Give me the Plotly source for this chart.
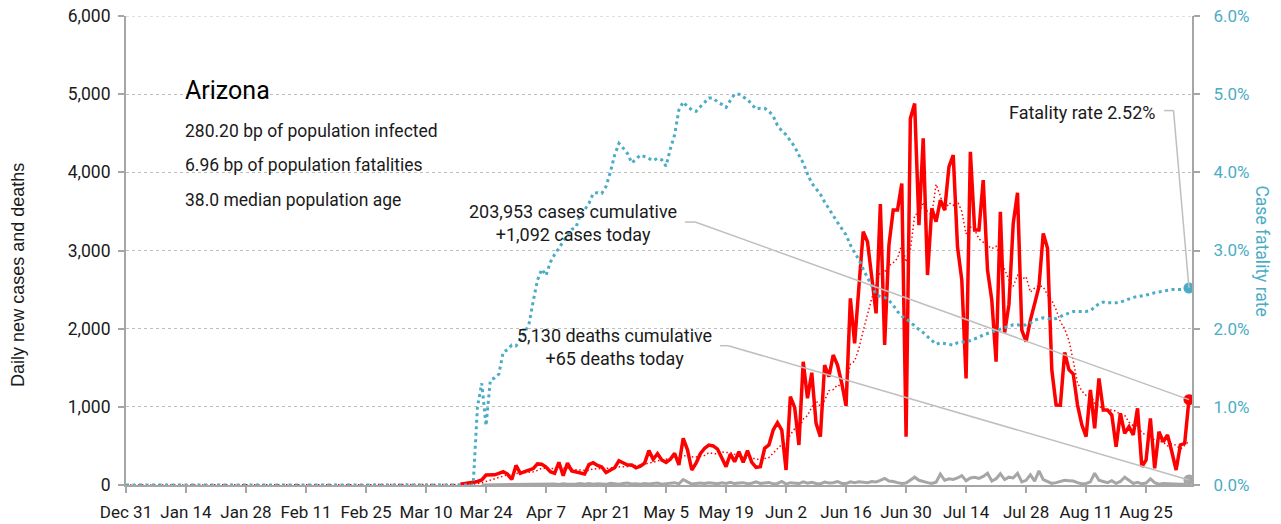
import pandas as pd
import plotly.graph_objects as go

# ---------------- data ----------------
start_date = "2019-12-31"

# daily new cases: zero before Mar 18, then reported values Mar 18 .. Sep 4
cases_zero_days = 78
cases_reported = [
    10, 15, 22, 35, 45, 65, 128, 128, 130, 150,
    170, 140, 70, 250, 150, 170, 190, 210, 270, 265,
    230, 170, 150, 290, 120, 280, 180, 170, 150, 140,
    260, 285, 250, 230, 160, 190, 220, 310, 280, 256,
    256, 220, 240, 280, 440, 330, 400, 320, 290, 330,
    405, 256, 597, 450, 192, 280, 400, 470, 510, 500,
    460, 341, 235, 397, 298, 426, 290, 439, 290, 226,
    235, 469, 512, 703, 797, 703, 192, 1130, 993, 512,
    1577, 1109, 1437, 789, 618, 1535, 1387, 1663, 1535, 1300,
    1010, 2388, 1812, 2537, 3240, 3112, 2622, 2196, 3594, 1791,
    3070, 3517, 3517, 3858, 618, 4690, 4881, 3325, 4434, 2686,
    3539, 3368, 3645, 3517, 4071, 4221, 3048, 2622, 1364, 4263,
    3261, 3261, 3901, 2750, 2366, 1577, 3496, 1950, 2310, 3347,
    3739, 1982, 1833, 2110, 2320, 2536, 3219, 3027, 1471, 1023,
    1020, 1695, 1475, 1420, 1023, 770, 620, 1215, 725, 1364,
    959, 960, 895, 490, 917, 661, 746, 640, 981, 234,
    320, 853, 213, 682, 554, 640, 426, 192, 512, 533,
    1092,
]

# daily deaths: zero before Mar 23, then reported values Mar 23 .. Sep 4
deaths_zero_days = 83
deaths_reported = [
    1, 2, 1, 3, 2, 4, 5, 3, 6, 4,
    8, 5, 7, 10, 6, 9, 8, 12, 6, 15,
    10, 8, 14, 18, 9, 20, 11, 16, 13, 8,
    22, 15, 10, 18, 24, 12, 16, 9, 20, 14,
    18, 25, 11, 17, 21, 30, 15, 70, 40, 12,
    20, 25, 18, 30, 22, 15, 28, 20, 35, 18,
    25, 30, 16, 22, 40, 19, 26, 33, 15, 20,
    45, 12, 30, 25, 18, 40, 22, 35, 20, 15,
    38, 25, 30, 45, 20, 18, 40, 30, 40, 35,
    30, 45, 40, 60, 85, 50, 45, 30, 20, 25,
    60, 100, 60, 40, 30, 20, 35, 140, 60, 80,
    70, 90, 120, 55, 90, 100, 85, 110, 150, 50,
    80, 145, 70, 100, 90, 150, 40, 60, 130, 50,
    180, 70, 45, 20, 30, 50, 60, 55, 50, 30,
    15, 20, 40, 150, 60, 45, 30, 55, 20, 45,
    100, 60, 20, 35, 15, 25, 80, 30, 10, 20,
    15, 10, 12, 8, 10, 65,
]

# case fatality rate (%): zero before Mar 22
cfr_zero_days = 82
cfr_reported_pct = [
    1.00, 1.30, 0.76, 1.34, 1.37, 1.42, 1.70, 1.73, 1.79, 1.78,
    1.86, 1.95, 2.05, 2.35, 2.62, 2.76, 2.68, 2.85, 2.95, 3.03,
    3.12, 3.20, 3.27, 3.30, 3.46, 3.52, 3.60, 3.73, 3.74, 3.73,
    3.82, 4.00, 4.22, 4.37, 4.31, 4.24, 4.12, 4.17, 4.22, 4.20,
    4.17, 4.15, 4.18, 4.16, 4.08, 4.30, 4.48, 4.80, 4.90, 4.84,
    4.80, 4.78, 4.84, 4.90, 4.95, 4.95, 4.90, 4.87, 4.83, 4.92,
    5.00, 5.00, 4.97, 4.93, 4.87, 4.81, 4.82, 4.82, 4.78, 4.72,
    4.60, 4.53, 4.48, 4.40, 4.33, 4.22, 4.12, 3.98, 3.86, 3.79,
    3.72, 3.62, 3.53, 3.44, 3.36, 3.28, 3.20, 3.07, 2.98, 2.88,
    2.76, 2.65, 2.55, 2.44, 2.41, 2.40, 2.36, 2.30, 2.22, 2.16,
    2.13, 2.08, 2.04, 1.99, 1.95, 1.90, 1.85, 1.80, 1.82, 1.81,
    1.80, 1.79, 1.82, 1.83, 1.83, 1.85, 1.86, 1.89, 1.92, 1.94,
    1.96, 1.97, 2.00, 2.02, 2.03, 2.05, 2.05, 2.04, 2.05, 2.07,
    2.11, 2.13, 2.14, 2.13, 2.12, 2.13, 2.16, 2.18, 2.20, 2.22,
    2.22, 2.22, 2.22, 2.23, 2.28, 2.32, 2.34, 2.33, 2.33, 2.33,
    2.34, 2.36, 2.39, 2.40, 2.41, 2.42, 2.43, 2.44, 2.46, 2.47,
    2.48, 2.49, 2.50, 2.50, 2.50, 2.50, 2.52,
]

state_name = "Arizona"
info_lines = [
    "280.20 bp of population infected",
    "6.96 bp of population fatalities",
    "38.0 median population age",
]
cases_cumulative = 203953
deaths_cumulative = 5130

tick_step_days = 14
y_max = 6000

# ---------------- build series ----------------
cases = [0] * cases_zero_days + cases_reported
deaths = [0] * deaths_zero_days + deaths_reported
cfr = [0.0] * cfr_zero_days + [v / 100 for v in cfr_reported_pct]
n = len(cases)
dates = pd.date_range(start_date, periods=n, freq="D")
cases_s = pd.Series(cases, index=dates)
deaths_s = pd.Series(deaths, index=dates)
cfr_s = pd.Series(cfr, index=dates)
cases_avg = cases_s.rolling(7, min_periods=1).mean()

cases_plot = cases_s[cases_s.index >= cases_s[cases_s > 0].index[0]]
deaths_plot = deaths_s[deaths_s.index >= deaths_s[deaths_s > 0].index[0]]

RED = "#FF0000"
TEAL = "#4BACC6"
GRAY = "#A6A6A6"
LEAD = "#BFBFBF"
TXT = "#1A1A1A"
FONT = "Roboto, Liberation Sans, Arial, sans-serif"
FONT_REG = "Liberation Sans, Arial, sans-serif"

fig = go.Figure()
fig.add_trace(go.Scatter(x=deaths_plot.index, y=deaths_plot.values, mode="lines",
                         line=dict(color=GRAY, width=3), hoverinfo="skip"))
fig.add_trace(go.Scatter(x=cases_avg.index, y=cases_avg.values, mode="lines",
                         line=dict(color=RED, width=1.5, dash="1.5px,2.5px"), hoverinfo="skip"))
fig.add_trace(go.Scatter(x=cases_plot.index, y=cases_plot.values, mode="lines",
                         line=dict(color=RED, width=3.5), hoverinfo="skip"))
fig.add_trace(go.Scatter(x=cfr_s.index, y=cfr_s.values, mode="lines", yaxis="y2",
                         line=dict(color=TEAL, width=3, dash="3px,3.5px"), hoverinfo="skip"))
# end-point markers
fig.add_trace(go.Scatter(x=[dates[-1]], y=[cases[-1]], mode="markers",
                         marker=dict(color=RED, size=11)))
fig.add_trace(go.Scatter(x=[dates[-1]], y=[deaths[-1]], mode="markers",
                         marker=dict(color=GRAY, size=11)))
fig.add_trace(go.Scatter(x=[dates[-1]], y=[cfr[-1]], mode="markers", yaxis="y2",
                         marker=dict(color=TEAL, size=11)))

tickvals = list(dates[::tick_step_days])
x_end = dates[-1] + pd.Timedelta(hours=17)


def day_at(d):
    return (pd.Timestamp(start_date) + pd.Timedelta(days=d)).isoformat()


shapes = [
    # top gridline (plotly omits the grid line at the range edge)
    dict(type="line", xref="paper", yref="y", x0=0, x1=1, y0=y_max, y1=y_max, layer="below",
         line=dict(color=LEAD, width=1, dash="dot")),
    dict(type="line", xref="x", yref="y", x0=day_at(130.4), x1=day_at(132.8), y0=3364, y1=3364,
         line=dict(color=LEAD, width=1.5)),
    dict(type="line", xref="x", yref="y", x0=day_at(132.8), x1=dates[-1].isoformat(), y0=3364,
         y1=cases[-1], line=dict(color=LEAD, width=1.5)),
    dict(type="line", xref="x", yref="y", x0=day_at(138.6), x1=day_at(140.5), y0=1782, y1=1782,
         line=dict(color=LEAD, width=1.5)),
    dict(type="line", xref="x", yref="y", x0=day_at(140.5), x1=dates[-1].isoformat(), y0=1782,
         y1=deaths[-1], line=dict(color=LEAD, width=1.5)),
    dict(type="line", xref="x", yref="y2", x0=day_at(242.2), x1=day_at(244.4), y0=0.0479, y1=0.0479,
         line=dict(color=LEAD, width=1.5)),
    dict(type="line", xref="x", yref="y2", x0=day_at(244.4), x1=dates[-1].isoformat(), y0=0.0479,
         y1=cfr[-1], line=dict(color=LEAD, width=1.5)),
]

annotations = [
    dict(text=state_name, x=0.0535, y=0.842, xref="paper", yref="paper", xanchor="left",
         yanchor="middle", showarrow=False, font=dict(family=FONT, size=25, color="#000000")),
]
for i, line in enumerate(info_lines):
    annotations.append(dict(text=line, x=0.0535, y=0.755 - i * 0.0735, xref="paper", yref="paper",
                            xanchor="left", yanchor="middle", showarrow=False,
                            font=dict(family=FONT, size=17.5, color=TXT)))
annotations += [
    dict(text=f"{cases_cumulative:,} cases cumulative<br>+{cases[-1]:,} cases today",
         x=0.4195, y=0.5586, xref="paper", yref="paper", xanchor="center", yanchor="middle",
         showarrow=False, font=dict(family=FONT, size=18, color=TXT)),
    dict(text=f"{deaths_cumulative:,} deaths cumulative<br>+{deaths[-1]:,} deaths today",
         x=0.4578, y=0.2953, xref="paper", yref="paper", xanchor="center", yanchor="middle",
         showarrow=False, font=dict(family=FONT, size=18, color=TXT)),
    dict(text=f"Fatality rate {cfr_reported_pct[-1]:.2f}%",
         x=0.9672, y=0.7953, xref="paper", yref="paper", xanchor="right", yanchor="middle",
         showarrow=False, font=dict(family=FONT, size=18, color=TXT)),
    dict(text="Case fatality rate", x=1.0657, y=0.5, xref="paper", yref="paper",
         xanchor="center", yanchor="middle", textangle=90, showarrow=False,
         font=dict(family=FONT, size=17.5, color=TEAL)),
    dict(text="Daily new cases and deaths", x=-0.1013, y=0.448, xref="paper", yref="paper",
         xanchor="center", yanchor="middle", textangle=-90, showarrow=False,
         font=dict(family=FONT_REG, size=18, color=TXT)),
]

axis_common = dict(zeroline=False, showline=True, linecolor=GRAY, linewidth=2,
                   ticks="outside", ticklen=6, tickwidth=1.5, tickcolor=GRAY, automargin=False,
                   ticklabeloverflow="allow")

fig.update_layout(
    width=1281, height=524,
    margin=dict(l=126, r=89, t=16, b=39),
    plot_bgcolor="white", paper_bgcolor="white",
    showlegend=False,
    hovermode=False,
    shapes=shapes,
    annotations=annotations,
    xaxis=dict(type="date", range=[dates[0], x_end], tickvals=tickvals, tickformat="%b %-d",
               tickangle=0, showgrid=False,
               tickfont=dict(family=FONT, size=17, color=TXT), ticklabelstandoff=5, **axis_common),
    yaxis=dict(range=[0, y_max], dtick=1000, tickformat=",", showgrid=True, gridcolor=LEAD,
               griddash="dot", gridwidth=1,
               tickfont=dict(family=FONT, size=17.5, color=TXT), ticklabelstandoff=4,
               **axis_common),
    yaxis2=dict(overlaying="y", side="right", range=[0, y_max / 100000], dtick=0.01,
                tickformat=".1%", showgrid=False,
                tickfont=dict(family=FONT, size=17, color=TEAL), ticklabelstandoff=10,
                **axis_common),
)

# remove the default page margin so the figure sits at the window's top-left corner
fig.write_html("out.html", config={"displayModeBar": False},
               post_script="document.body.style.margin='0';")
